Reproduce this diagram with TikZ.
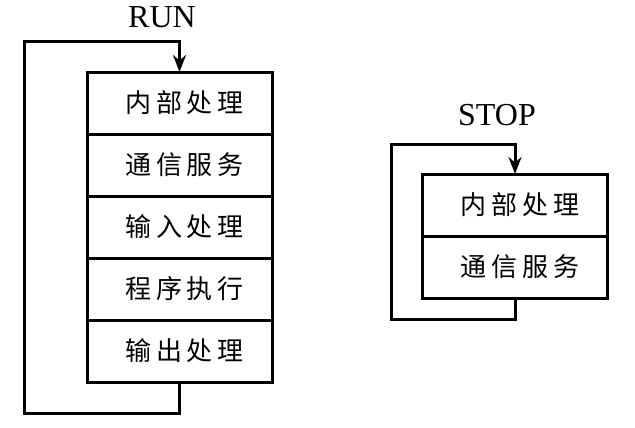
\documentclass[tikz,border=0pt]{standalone}
\usepackage{fontspec}
\setmainfont{Liberation Serif}
\newfontfamily\cjk[LetterSpace=18]{Noto Sans CJK SC}
\usetikzlibrary{positioning,arrows.meta}
\begin{document}
\begin{tikzpicture}[x=1bp,y=-1bp,>={Stealth[length=17bp,width=13bp]},line join=miter]
	\tikzset{row/.style={draw,line width=3bp,outer sep=0pt,minimum width=185bp,minimum height=62bp,inner sep=0pt,font=\fontsize{26bp}{28bp}\cjk,execute at begin node={\hspace*{10bp}}},
		mode/.style={font=\fontsize{32bp}{34bp}\selectfont},
		loop/.style={line width=3bp}}
	\useasboundingbox (0,0) rectangle (635,427);
	%%RUN
	\node[mode] (runlabel) at (162,17) {RUN};
	\node[row] (run1) at (179.5,103) {内部处理};
	\node[row,below=0pt of run1] (run2) {通信服务};
	\node[row,below=0pt of run2] (run3) {输入处理};
	\node[row,below=0pt of run3] (run4) {程序执行};
	\node[row,below=0pt of run4] (run5) {输出处理};
	\coordinate (runloop) at (24,41);
	\draw[loop,->] (run5.south) -- ++(0,31) -| (runloop) -| (run1.north);
	%%STOP
	\node[mode] (stoplabel) at (497,115) {STOP};
	\node[row] (stop1) at (515,205) {内部处理};
	\node[row,below=0pt of stop1] (stop2) {通信服务};
	\coordinate (stoploop) at (391,144);
	\draw[loop,->] (stop2.south) -- ++(0,21) -| (stoploop) -| (stop1.north);
\end{tikzpicture}
\end{document}
